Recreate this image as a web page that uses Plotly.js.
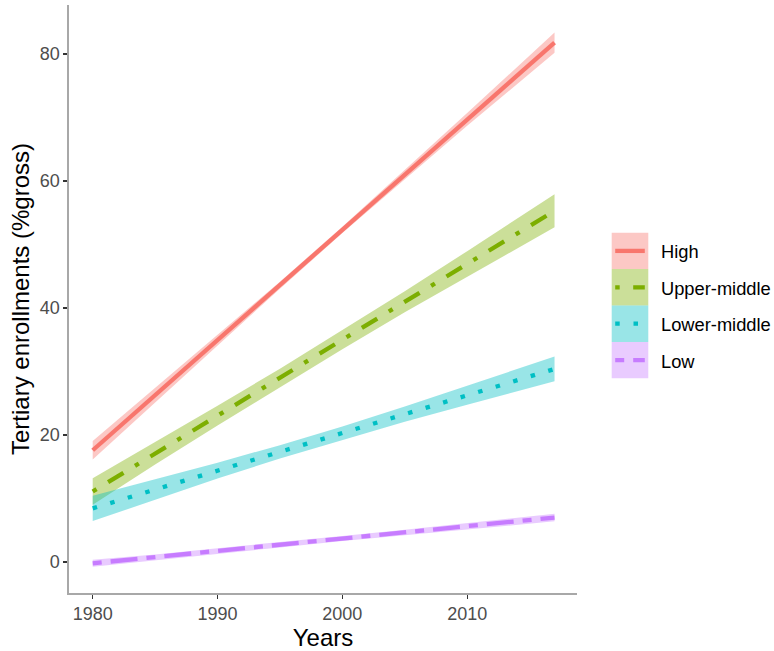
<!DOCTYPE html>
<html>
<head>
<meta charset="utf-8">
<script src="https://cdn.plot.ly/plotly-3.0.1.min.js"></script>
<style>
  html, body { margin: 0; padding: 0; background: #ffffff; }
  #chart { width: 774px; height: 651px; }
</style>
</head>
<body>
<div id="chart"></div>
<script>
// ---- data ----
const years = [1980, 1985, 1990, 1995, 2000, 2005, 2010, 2017];
const groups = ["High", "Upper-middle", "Lower-middle", "Low"];

const highFit   = [17.6, 26.3, 35.0, 43.6, 52.3, 61.0, 69.7, 81.8];
const highLow   = [16.15, 25.15, 34.2, 43.05, 51.8, 60.3, 68.7, 80.2];
const highHigh  = [19.05, 27.45, 35.8, 44.15, 52.8, 61.7, 70.7, 83.4];

const umFit     = [11.1, 17.1, 23.05, 29.0, 35.0, 41.0, 46.95, 55.3];
const umLow     = [9.0, 15.35, 21.5, 27.55, 33.5, 39.35, 44.95, 52.7];
const umHigh    = [13.2, 18.85, 24.6, 30.45, 36.5, 42.65, 48.95, 57.9];

const lmFit     = [8.45, 11.4, 14.4, 17.35, 20.3, 23.3, 26.25, 30.4];
const lmLow     = [6.45, 9.8, 13.15, 16.3, 19.25, 22.1, 24.75, 28.45];
const lmHigh    = [10.45, 13.0, 15.65, 18.4, 21.35, 24.5, 27.75, 32.35];

const lowFit    = [-0.2, 0.75, 1.75, 2.7, 3.7, 4.65, 5.65, 7.0];
const lowLow    = [-0.75, 0.3, 1.32, 2.3, 3.3, 4.22, 5.18, 6.4];
const lowHigh   = [0.35, 1.2, 2.18, 3.1, 4.1, 5.08, 6.12, 7.6];

const xTicks = [1980, 1990, 2000, 2010];
const yTicks = [0, 20, 40, 60, 80];

// ---- styles ----
const colors = ["#F8766D", "#7CAE00", "#00BFC4", "#C77CFF"];
const fills  = ["rgba(248,118,109,0.4)", "rgba(124,174,0,0.4)", "rgba(0,191,196,0.4)", "rgba(199,124,255,0.4)"];
const dashes = ["solid", "4.5px,13.5px,18px,13.5px", "4.5px,13.8px", "9px,9px,27px,9px"];
const LW = 4.3;

const series = [
  {fit: highFit, lo: highLow, hi: highHigh},
  {fit: umFit, lo: umLow, hi: umHigh},
  {fit: lmFit, lo: lmLow, hi: lmHigh},
  {fit: lowFit, lo: lowLow, hi: lowHigh}
];

const traces = [];
series.forEach((s, i) => {
  traces.push({x: years, y: s.lo, type: "scatter", mode: "lines",
    line: {width: 0, color: fills[i]}, hoverinfo: "skip", showlegend: false});
  traces.push({x: years, y: s.hi, type: "scatter", mode: "lines", fill: "tonexty",
    fillcolor: fills[i], line: {width: 0, color: fills[i]}, hoverinfo: "skip", showlegend: false});
  traces.push({x: years, y: s.fit, type: "scatter", mode: "lines", name: groups[i],
    line: {width: LW, color: colors[i], dash: dashes[i]}, showlegend: false});
});

// ---- plot area geometry (pixels) ----
const W = 774, H = 651;
const L = 69, R = 577, T = 5, B = 593;
const px = x => (x - L) / (R - L);
const py = y => (B - y) / (B - T);

// ---- manual legend in ggplot style ----
const shapes = [];
const annotations = [];
const keyX0 = 611.7, keyX1 = 648.3, keyTop = 232.7, keyH = 36.4;
groups.forEach((g, i) => {
  const y0 = keyTop + i * keyH, y1 = y0 + keyH, yc = (y0 + y1) / 2;
  shapes.push({type: "rect", xref: "paper", yref: "paper",
    x0: px(keyX0), x1: px(keyX1), y0: py(y1), y1: py(y0),
    fillcolor: fills[i], line: {width: 0}, layer: "above"});
  shapes.push({type: "line", xref: "paper", yref: "paper",
    x0: px(keyX0 + 3.5), x1: px(keyX1 - 3.5), y0: py(yc), y1: py(yc),
    line: {color: colors[i], width: LW, dash: dashes[i]}, layer: "above"});
  annotations.push({xref: "paper", yref: "paper", x: px(659), y: py(yc + 1),
    xanchor: "left", yanchor: "middle", showarrow: false, text: g,
    font: {family: "Liberation Sans, Arial, sans-serif", size: 18.3, color: "#000000"}});
});

const layout = {
  width: W, height: H,
  margin: {l: L, r: W - R, t: T, b: H - B, pad: 0},
  paper_bgcolor: "#ffffff", plot_bgcolor: "#ffffff",
  font: {family: "Liberation Sans, Arial, sans-serif", color: "#4D4D4D"},
  showlegend: false,
  xaxis: {
    range: [1978.1, 2018.8], tickvals: xTicks, ticktext: xTicks.map(String),
    showgrid: false, zeroline: false, showline: true, linecolor: "#A8A8A8", linewidth: 1.6,
    ticks: "outside", ticklen: 4, tickwidth: 1.1, tickcolor: "#333333",
    tickfont: {size: 18, color: "#4D4D4D"},
    title: {text: "Years", font: {size: 24, color: "#000000"}, standoff: 4},
    automargin: false, fixedrange: true
  },
  yaxis: {
    range: [-4.88, 87.72], tickvals: yTicks, ticktext: yTicks.map(String),
    showgrid: false, zeroline: false, showline: true, linecolor: "#A8A8A8", linewidth: 1.6,
    ticks: "outside", ticklen: 4, tickwidth: 1.1, tickcolor: "#333333",
    tickfont: {size: 18, color: "#4D4D4D"},
    title: {text: "Tertiary enrollments (%gross)", font: {size: 24, color: "#000000"}, standoff: 3},
    automargin: false, fixedrange: true
  },
  shapes: shapes,
  annotations: annotations
};

Plotly.newPlot("chart", traces, layout, {displayModeBar: false, staticPlot: true});
</script>
</body>
</html>
